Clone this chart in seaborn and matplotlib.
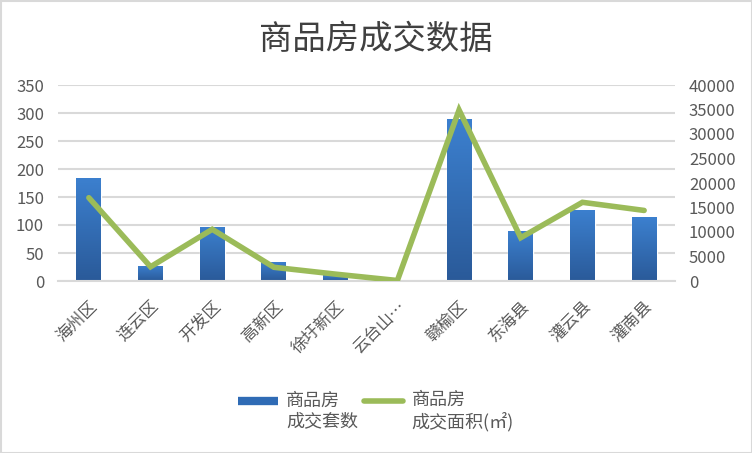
import numpy as np
import pandas as pd
import matplotlib
matplotlib.use("Agg")
import matplotlib.pyplot as plt
import seaborn as sns
from matplotlib.lines import Line2D
from matplotlib.patches import Rectangle
from matplotlib.legend_handler import HandlerLine2D
import matplotlib.colors as mcolors

categories = ["海州区", "连云区", "开发区", "高新区", "徐圩新区", "云台山…", "赣榆区", "东海县", "灌云县", "灌南县"]
units_sold = [184, 27, 97, 34, 10, 0, 289, 89, 127, 114]
area_sold = [17000, 2900, 10550, 2800, 1400, 100, 34900, 8840, 16060, 14400]
left_ticks = [0, 50, 100, 150, 200, 250, 300, 350]
right_ticks = [0, 5000, 10000, 15000, 20000, 25000, 30000, 35000, 40000]
title = "商品房成交数据"
label_bar = "商品房\n成交套数"
label_line = "商品房\n成交面积(㎡)"

sns.set_theme(style="white")
plt.rcParams['font.family'] = ['Noto Sans CJK SC', 'DejaVu Sans']

df = pd.DataFrame({"cat": categories, "units": units_sold, "area": area_sold})

fig = plt.figure(figsize=(7.52, 4.53), dpi=100)
ax = fig.add_axes([58/752, 1-281/453, (675-58)/752, (281-85)/453])

sns.barplot(data=df, x="cat", y="units", ax=ax, color="#2f6bb5", width=0.405, saturation=1)

# gradient fill for bars
cmap = mcolors.LinearSegmentedColormap.from_list("g", ["#2a5a99", "#3c80cf"])
grad = np.linspace(0, 1, 256).reshape(-1, 1)
for p in ax.patches:
    x0, y0 = p.get_x(), p.get_y()
    w, h = p.get_width(), p.get_height()
    if h <= 0:
        continue
    im = ax.imshow(grad, extent=[x0, x0 + w, y0, y0 + h], origin="lower",
                   cmap=cmap, aspect="auto", zorder=p.get_zorder())
    im.set_clip_path(p)

ax.set_xlim(-0.5, len(categories) - 0.5)
ax.set_ylim(0, 350)
ax.set_yticks(left_ticks)
ax.yaxis.grid(True, color="#d9d9d9", linewidth=1.5)
ax.set_axisbelow(True)
for s in ["top", "right", "left"]:
    ax.spines[s].set_visible(False)
ax.spines["bottom"].set_color("#d9d9d9")
ax.spines["bottom"].set_linewidth(1.5)
ax.set_xlabel("")
ax.set_ylabel("")
ax.tick_params(axis="both", length=0, colors="#595959", labelsize=12)
ax.tick_params(axis="y", pad=10)
ax.tick_params(axis="x", pad=12)
for lab in ax.get_xticklabels():
    lab.set_rotation(45)
    lab.set_ha("right")
    lab.set_rotation_mode("anchor")
    lab.set_color("#595959")

ax2 = ax.twinx()
sns.lineplot(data=df, x="cat", y="area", ax=ax2, color="#9bbb59", linewidth=4,
             solid_capstyle="round", solid_joinstyle="miter", sort=False)
ax2.set_ylim(0, 40000)
ax2.set_yticks(right_ticks)
ax2.set_ylabel("")
for s in ["top", "right", "left", "bottom"]:
    ax2.spines[s].set_visible(False)
ax2.tick_params(axis="y", length=0, colors="#595959", labelsize=12, pad=10)
ax2.grid(False)

fig.suptitle(title, x=0.5, y=1-40/453, va="center", fontsize=24, color="#404040")


class UpHandler(HandlerLine2D):
    def __init__(self, shift, **kw):
        super().__init__(**kw)
        self.shift = shift

    def create_artists(self, legend, orig_handle, xdescent, ydescent, width, height, fontsize, trans):
        arts = super().create_artists(legend, orig_handle, xdescent, ydescent, width, height, fontsize, trans)
        for a in arts:
            if isinstance(a, Line2D):
                a.set_ydata(np.asarray(a.get_ydata(), dtype=float) + self.shift)
        return arts


h_bar = Line2D([0], [0], color="#2f6bb5", linewidth=6, solid_capstyle="butt")
h_line = Line2D([0], [0], color="#9bbb59", linewidth=4, solid_capstyle="round")
fs = 13
fig.legend([h_bar, h_line], [label_bar, label_line], loc="center", bbox_to_anchor=(0.5, 1-411/453),
           ncol=2, frameon=False, fontsize=fs, handlelength=2.2, columnspacing=0.3,
           labelcolor="#595959", handletextpad=0.45,
           handler_map={h_bar: UpHandler(8), h_line: UpHandler(8)})

fig.patches.append(Rectangle((0.5/752, 0.5/453), 1-1/752, 1-1/453, transform=fig.transFigure,
                             fill=False, edgecolor="#d9d9d9", linewidth=1.5))

fig.savefig("out.png", dpi=100)
